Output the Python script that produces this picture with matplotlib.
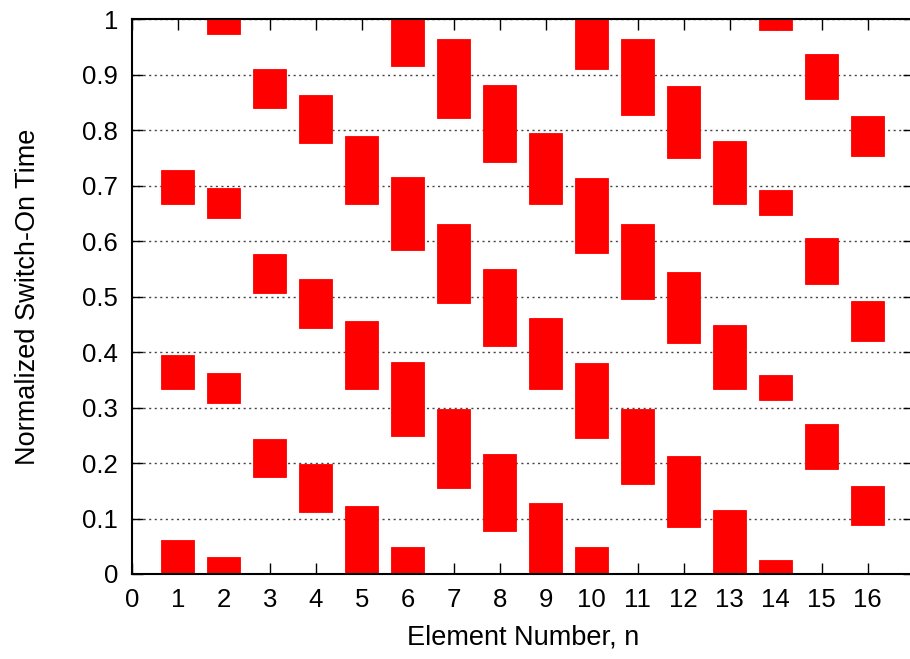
import matplotlib
matplotlib.use("Agg")
import matplotlib.pyplot as plt
from matplotlib.ticker import FormatStrFormatter

# switch-on intervals, one row per box: element number, start, end
element = [1, 1, 1,
           2, 2, 2, 2,
           3, 3, 3, 3,
           4, 4, 4, 4,
           5, 5, 5,
           6, 6, 6, 6,
           7, 7, 7, 7,
           8, 8, 8, 8,
           9, 9, 9,
           10, 10, 10, 10,
           11, 11, 11, 11,
           12, 12, 12, 12,
           13, 13, 13,
           14, 14, 14, 14,
           15, 15, 15, 15,
           16, 16, 16, 16]
t_start = [0.0, 0.333, 0.667,
           0.0, 0.308, 0.641, 0.974,
           0.0, 0.174, 0.507, 0.840,
           0.0, 0.111, 0.444, 0.777,
           0.0, 0.333, 0.667,
           0.0, 0.249, 0.583, 0.915,
           0.0, 0.155, 0.488, 0.822,
           0.0, 0.077, 0.410, 0.743,
           0.0, 0.333, 0.667,
           0.0, 0.245, 0.578, 0.910,
           0.0, 0.162, 0.495, 0.828,
           0.0, 0.084, 0.417, 0.750,
           0.0, 0.333, 0.667,
           0.0, 0.314, 0.647, 0.980,
           0.0, 0.190, 0.523, 0.856,
           0.0, 0.088, 0.420, 0.754]
t_end = [0.061, 0.395, 0.728,
         0.030, 0.363, 0.696, 1.0,
         0.0, 0.243, 0.577, 0.910,
         0.0, 0.198, 0.532, 0.864,
         0.123, 0.456, 0.789,
         0.049, 0.382, 0.715, 1.0,
         0.0, 0.297, 0.631, 0.964,
         0.0, 0.216, 0.549, 0.882,
         0.128, 0.461, 0.795,
         0.048, 0.381, 0.714, 1.0,
         0.0, 0.298, 0.631, 0.964,
         0.0, 0.213, 0.545, 0.879,
         0.115, 0.449, 0.781,
         0.026, 0.359, 0.692, 1.0,
         0.0, 0.271, 0.605, 0.938,
         0.0, 0.159, 0.492, 0.825]

heights = [e - s for s, e in zip(t_start, t_end)]

plt.rcParams['font.family'] = ['Liberation Sans', 'DejaVu Sans']

fig = plt.figure(figsize=(9.10, 6.59), dpi=100)
# right border sits just past the edge of the picture, like the original
ax = fig.add_axes([0.145, 0.129, 0.859, 0.842])

ax.bar(element, heights, bottom=t_start, width=0.72, color='#ff0000',
       edgecolor='#ff0000', linewidth=0.6, zorder=2)

ax.set_xlim(0, 17)
ax.set_ylim(0, 1)
ax.set_xticks(range(0, 17))
ax.set_yticks([i / 10 for i in range(11)])
ax.yaxis.set_major_formatter(FormatStrFormatter('%g'))

ax.grid(axis='y', linestyle=(0, (1.5, 2.5)), color='#444444', linewidth=1.0, zorder=1)
ax.set_axisbelow(True)

ax.tick_params(direction='in', length=8, width=1, top=True, right=True,
               labelsize=18.5, pad=10)
for sp in ax.spines.values():
    sp.set_linewidth(1.5)
    sp.set_zorder(3)

ax.set_xlabel('Element Number, n', fontsize=19.5, labelpad=9)
ax.set_ylabel('Normalized Switch-On Time', fontsize=19.5, labelpad=30)

fig.savefig('out.png', dpi=100)
